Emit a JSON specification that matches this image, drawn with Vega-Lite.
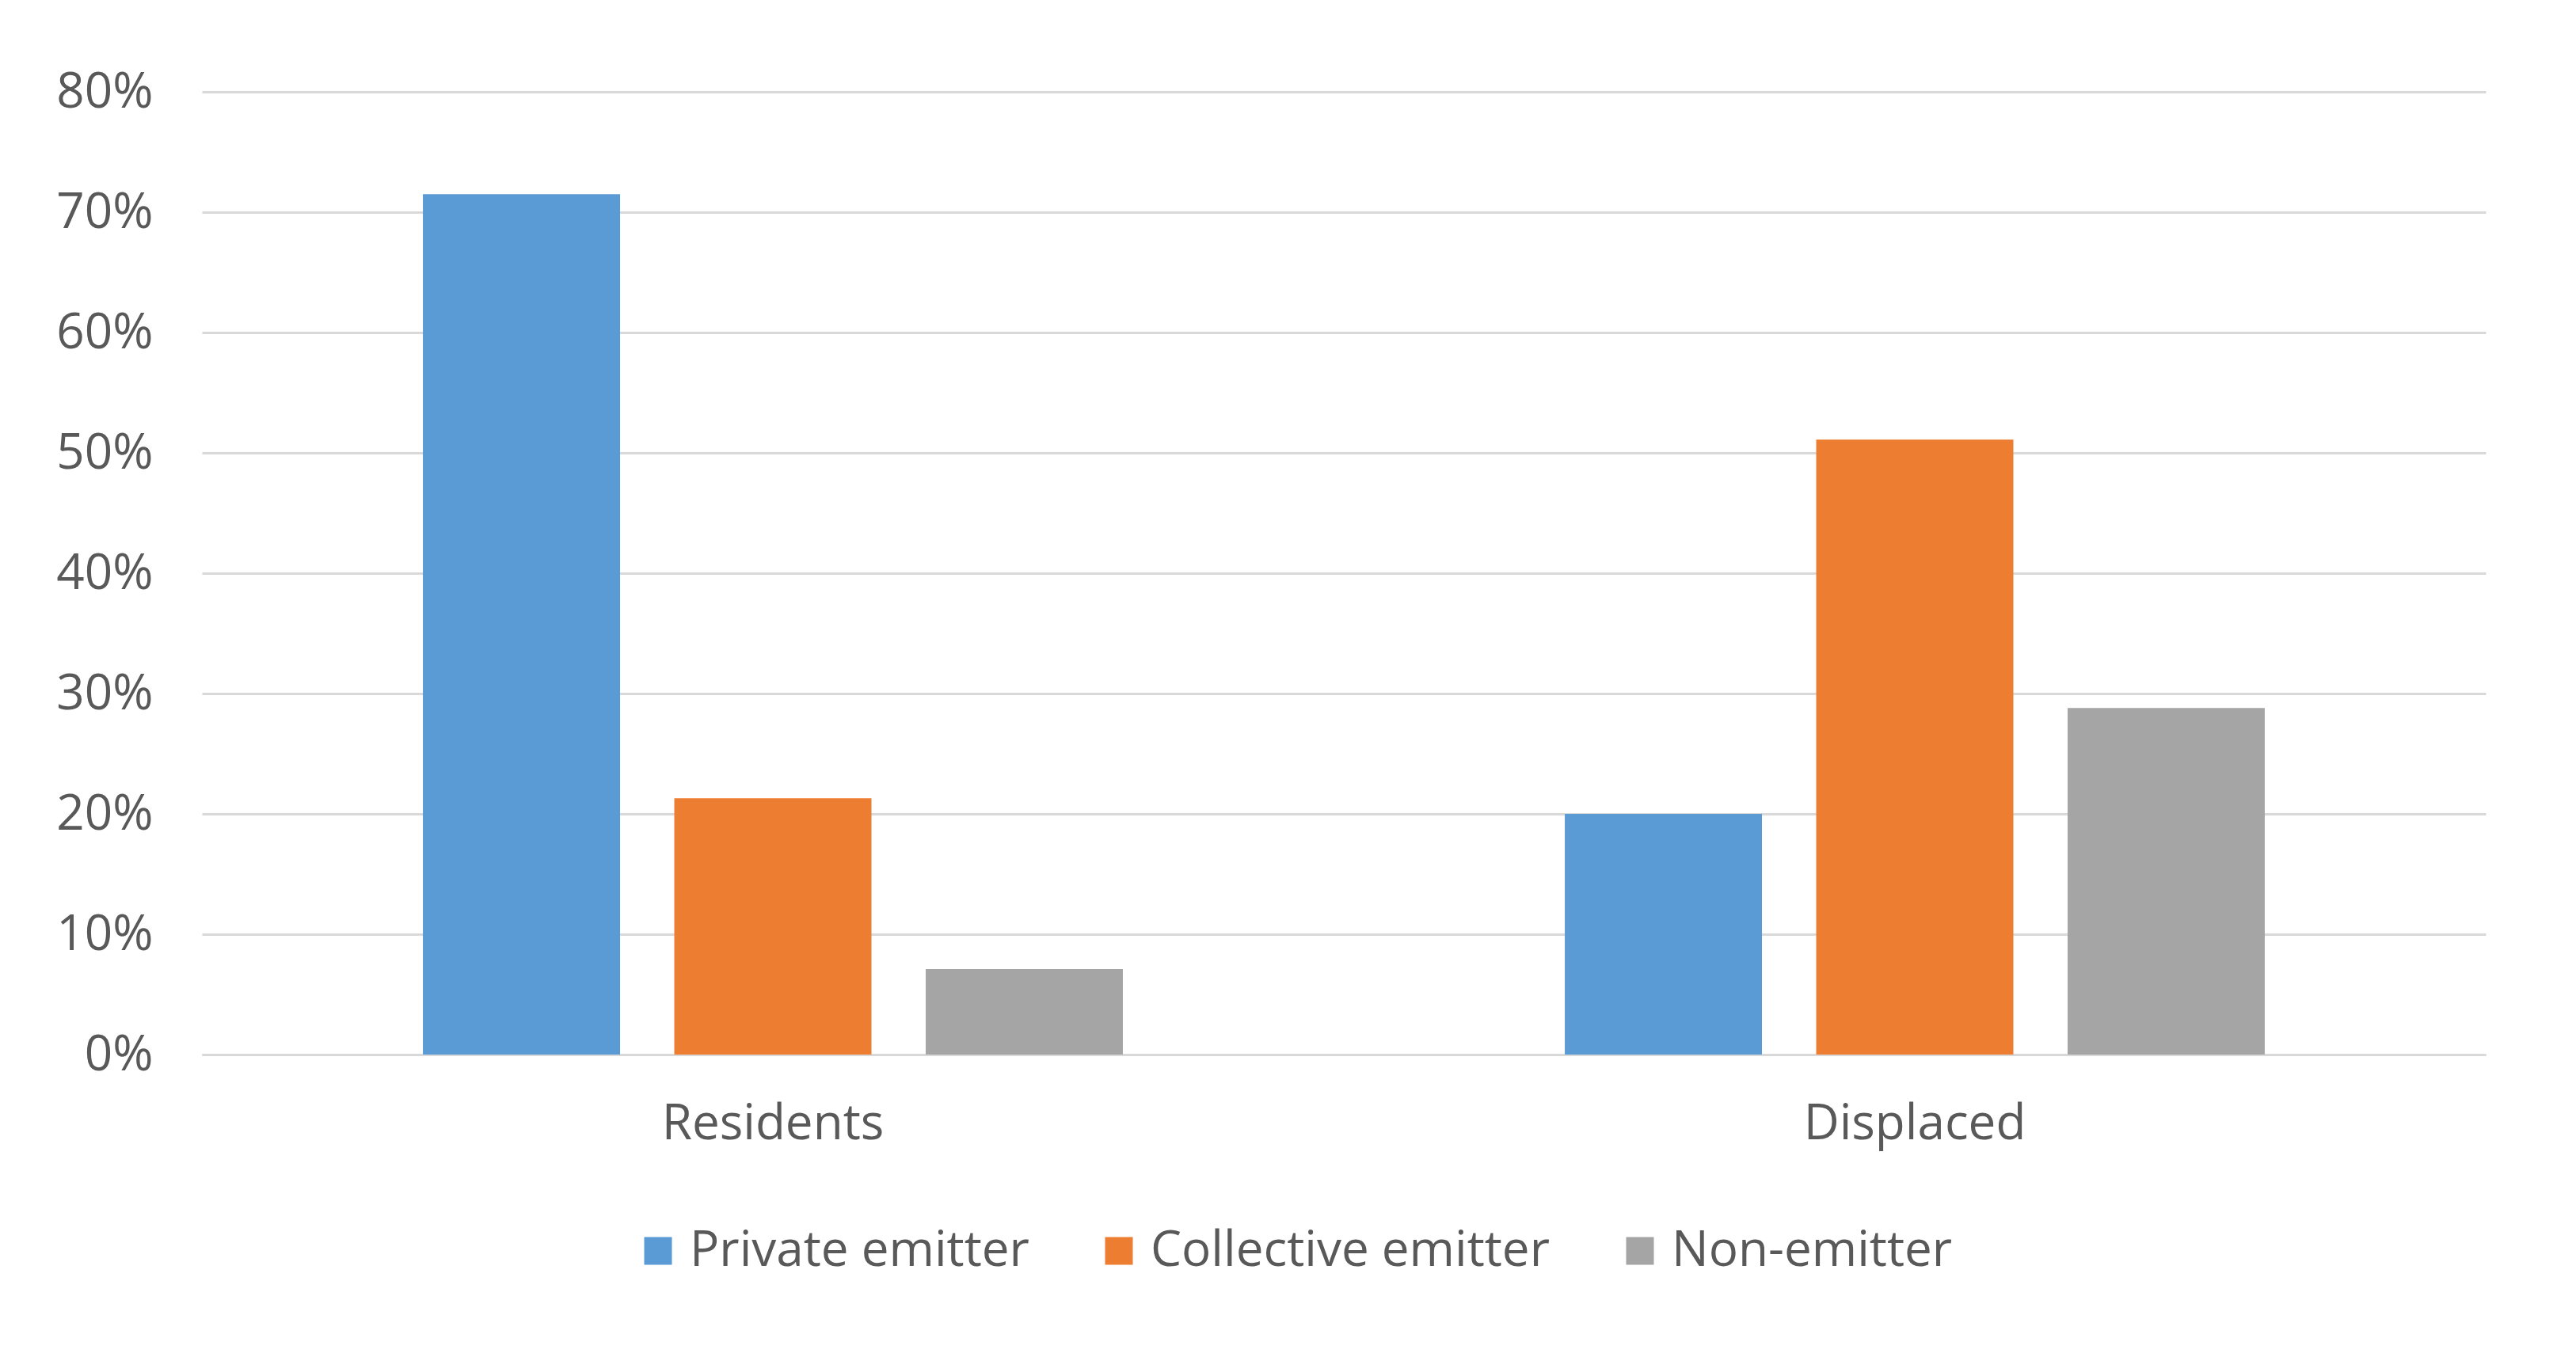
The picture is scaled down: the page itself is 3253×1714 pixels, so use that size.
{
  "$schema": "https://vega.github.io/schema/vega-lite/v6.json",
  "width": 2884,
  "height": 1216,
  "autosize": {"type": "none"},
  "padding": {"left": 255, "top": 116, "right": 114, "bottom": 382},
  "background": "white",
  "data": {
    "values": [
      {"group": "Residents", "category": "Private emitter", "value": 0.715},
      {"group": "Residents", "category": "Collective emitter", "value": 0.213},
      {"group": "Residents", "category": "Non-emitter", "value": 0.071},
      {"group": "Displaced", "category": "Private emitter", "value": 0.200},
      {"group": "Displaced", "category": "Collective emitter", "value": 0.511},
      {"group": "Displaced", "category": "Non-emitter", "value": 0.288}
    ]
  },
  "mark": {"type": "bar"},
  "encoding": {
    "x": {
      "field": "group",
      "type": "nominal",
      "sort": ["Residents", "Displaced"],
      "scale": {"paddingInner": 0, "paddingOuter": 0},
      "axis": {
        "title": null,
        "labelAngle": 0,
        "labelPadding": 57,
        "labelLimit": 0,
        "ticks": false,
        "tickSize": 0,
        "domain": true,
        "domainColor": "#D9D9D9",
        "domainWidth": 3,
        "grid": false
      }
    },
    "xOffset": {
      "field": "category",
      "type": "nominal",
      "sort": ["Private emitter", "Collective emitter", "Non-emitter"],
      "scale": {"paddingInner": 0.2157, "paddingOuter": 0.879}
    },
    "y": {
      "field": "value",
      "type": "quantitative",
      "scale": {"domain": [0, 0.8], "nice": false},
      "axis": {
        "title": null,
        "format": ".0%",
        "values": [0, 0.1, 0.2, 0.3, 0.4, 0.5, 0.6, 0.7, 0.8],
        "ticks": false,
        "tickSize": 0,
        "domain": false,
        "labelPadding": 62,
        "labelLimit": 0,
        "grid": true,
        "gridColor": "#D9D9D9",
        "gridWidth": 3
      }
    },
    "color": {
      "field": "category",
      "type": "nominal",
      "sort": ["Private emitter", "Collective emitter", "Non-emitter"],
      "scale": {
        "domain": ["Private emitter", "Collective emitter", "Non-emitter"],
        "range": ["#5B9BD5", "#ED7D31", "#A5A5A5"]
      },
      "legend": {
        "title": null,
        "orient": "none",
        "legendX": 545,
        "legendY": 1433,
        "direction": "horizontal",
        "columns": 3,
        "symbolType": "square",
        "symbolSize": 1225,
        "symbolStrokeWidth": 0,
        "labelOffset": 9,
        "labelLimit": 0,
        "columnPadding": 82,
        "labelFontSize": 62,
        "labelFont": "Open Sans",
        "labelColor": "#595959",
        "padding": 0
      }
    }
  },
  "config": {
    "view": {"stroke": null},
    "axis": {
      "labelFont": "Open Sans",
      "labelFontSize": 62,
      "labelColor": "#595959"
    }
  }
}
